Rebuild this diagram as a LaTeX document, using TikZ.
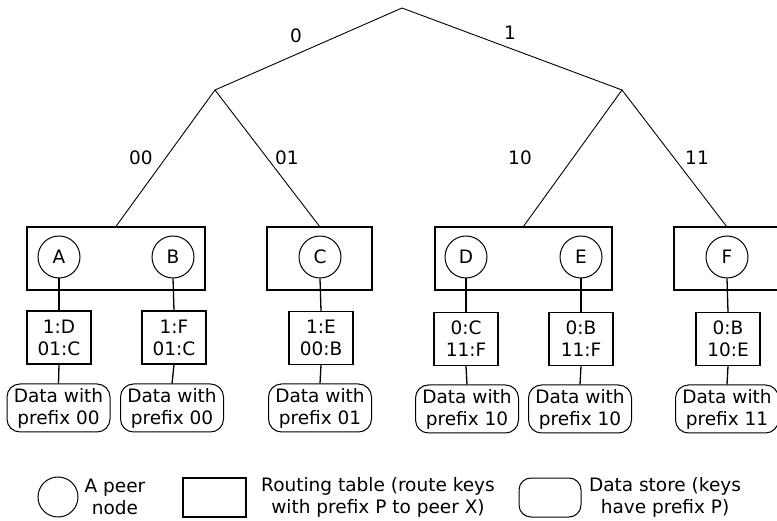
\documentclass[tikz,border=0pt]{standalone}
\usepackage{fontspec}
\setmainfont{DejaVu Sans}
\begin{document}
\begin{tikzpicture}[x=1pt,y=-1pt,
  font=\fontsize{18.5}{22}\selectfont,
  peer/.style={circle, draw, line width=1pt, minimum size=42pt, inner sep=0pt},
  rtable/.style={draw, line width=1.3pt, minimum width=64pt, minimum height=53pt, align=center, inner sep=0pt},
  store/.style={draw, line width=1pt, rounded corners=13pt, minimum width=103pt, minimum height=48pt, align=center, inner sep=0pt},
  group/.style={draw, line width=1.3pt, minimum height=63pt, inner sep=0pt},
  edge/.style={line width=0.9pt},
  conn/.style={line width=1.3pt},
  lbl/.style={inner sep=1pt},
  legtext/.style={align=center, inner sep=0pt}]
\useasboundingbox (0,0) rectangle (777,521);

% tree
\coordinate (root) at (402,8);
\coordinate (n0) at (215,90);
\coordinate (n1) at (622,90);

\node[group, minimum width=178pt] (gAB) at (116,258.5) {};
\node[group, minimum width=105pt] (gC) at (319.5,258.5) {};
\node[group, minimum width=177pt] (gDE) at (523.5,258.5) {};
\node[group, minimum width=105pt] (gF) at (726.5,258.5) {};

\draw[edge] (n0) -- (root) -- (n1);
\draw[edge] (gAB.north) -- (n0) -- (gC.north);
\draw[edge] (gDE.north) -- (n1) -- (gF.north);

\node[lbl] (l0) at (296,36) {0};
\node[lbl] (l1) at (510,33) {1};
\node[lbl] (l00) at (141,158) {00};
\node[lbl] (l01) at (287,158) {01};
\node[lbl] (l10) at (520,158) {10};
\node[lbl] (l11) at (697,158) {11};

% peers
\node[peer] (A) at (59,257) {A};
\node[peer] (B) at (173,257) {B};
\node[peer] (C) at (320,257) {C};
\node[peer] (D) at (466,257) {D};
\node[peer] (E) at (581,257) {E};
\node[peer] (F) at (727,257) {F};

% routing tables
\node[rtable] (tA) at (59,337.5) {1:D\\01:C};
\node[rtable] (tB) at (174,337.5) {1:F\\01:C};
\node[rtable] (tC) at (321,338) {1:E\\00:B};
\node[rtable] (tD) at (466,339) {0:C\\11:F};
\node[rtable] (tE) at (581,339) {0:B\\11:F};
\node[rtable] (tF) at (728,339) {0:B\\10:E};

% data stores
\node[store] (dA) at (58.5,408) {Data with\\prefix 00};
\node[store] (dB) at (172,408) {Data with\\prefix 00};
\node[store] (dC) at (320,408) {Data with\\prefix 01};
\node[store] (dD) at (467,409) {Data with\\prefix 10};
\node[store] (dE) at (580,409) {Data with\\prefix 10};
\node[store] (dF) at (727,409) {Data with\\prefix 11};

\foreach \p in {A,B,C,D,E,F}{
  \draw[conn] (\p.south) -- (t\p.north);
  \draw[conn] (t\p.south) -- (d\p.north);
}

% legend
\node[peer, minimum size=40pt] (legP) at (58,497) {};
\node[legtext] (legPt) at (115,497) {A peer\\node};
\node[draw, line width=1.3pt, minimum width=63pt, minimum height=39pt, inner sep=0pt] (legR) at (214.5,497.5) {};
\node[legtext] (legRt) at (378,497) {Routing table (route keys\\with prefix P to peer X)};
\node[draw, line width=1pt, rounded corners=12pt, minimum width=62pt, minimum height=39pt, inner sep=0pt] (legD) at (550,497.5) {};
\node[legtext] (legDt) at (665,497) {Data store (keys\\have prefix P)};
\end{tikzpicture}
\end{document}
